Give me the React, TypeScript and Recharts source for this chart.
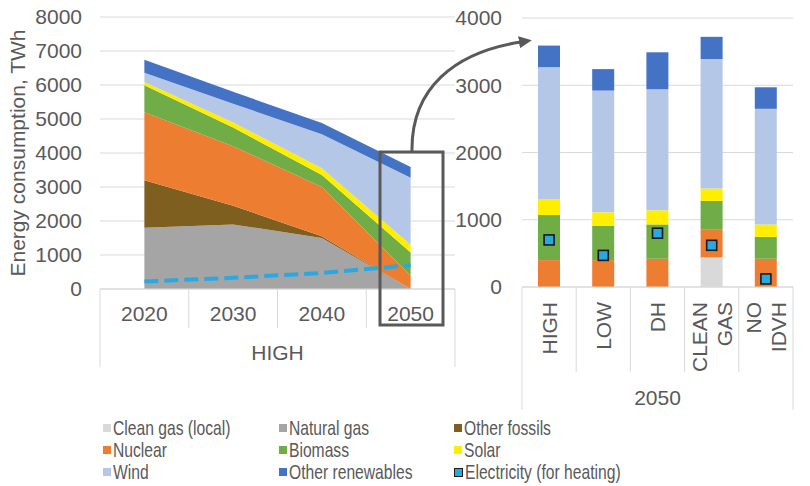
import React from "react";
import { ComposedChart, Area, Line, Bar, XAxis, YAxis, CartesianGrid } from "recharts";

// HIGH scenario, development over time (TWh)
const years = ["2020", "2030", "2040", "2050"];
const highCleanGas = [0, 0, 0, 0];
const highNaturalGas = [1800, 1900, 1500, 0];
const highOtherFossils = [1400, 550, 50, 0];
const highNuclear = [2000, 1750, 1450, 400];
const highBiomass = [790, 550, 350, 670];
const highSolar = [100, 150, 200, 230];
const highWind = [270, 550, 1000, 1970];
const highOtherRenewables = [380, 350, 330, 320];
const highElectricity = [220, 330, 470, 700];

// 2050 scenarios (TWh)
const scenarios = ["HIGH", "LOW", "DH", "CLEAN GAS", "NO IDVH"];
const scCleanGas = [0, 0, 0, 440, 0];
const scNaturalGas = [0, 0, 0, 0, 0];
const scOtherFossils = [0, 0, 0, 0, 0];
const scNuclear = [400, 400, 420, 420, 420];
const scBiomass = [670, 510, 510, 420, 325];
const scSolar = [230, 200, 210, 185, 185];
const scWind = [1970, 1810, 1800, 1925, 1720];
const scOtherRenewables = [320, 320, 550, 330, 320];
const scElectricity = [700, 470, 800, 620, 120];

const leftTicks = [0, 1000, 2000, 3000, 4000, 5000, 6000, 7000, 8000];
const rightTicks = [0, 1000, 2000, 3000, 4000];

const series = [
  { key: "cleanGas", name: "Clean gas (local)", color: "#d9d9d9" },
  { key: "naturalGas", name: "Natural gas", color: "#a5a5a5" },
  { key: "otherFossils", name: "Other fossils", color: "#7f5f1f" },
  { key: "nuclear", name: "Nuclear", color: "#ed7d31" },
  { key: "biomass", name: "Biomass", color: "#70ad47" },
  { key: "solar", name: "Solar", color: "#ffee00" },
  { key: "wind", name: "Wind", color: "#b4c7e7" },
  { key: "otherRenewables", name: "Other renewables", color: "#4472c4" },
];
const ELEC_COLOR = "#29a9e1";
const TEXT = "#595959";
const GRID = "#d9d9d9";
const FONT = "'Liberation Sans', Arial, sans-serif";

const leftData = years.map((year, i) => ({
  year,
  cleanGas: highCleanGas[i],
  naturalGas: highNaturalGas[i],
  otherFossils: highOtherFossils[i],
  nuclear: highNuclear[i],
  biomass: highBiomass[i],
  solar: highSolar[i],
  wind: highWind[i],
  otherRenewables: highOtherRenewables[i],
  electricity: highElectricity[i],
}));

const rightData = scenarios.map((scenario, i) => ({
  scenario,
  cleanGas: scCleanGas[i],
  naturalGas: scNaturalGas[i],
  otherFossils: scOtherFossils[i],
  nuclear: scNuclear[i],
  biomass: scBiomass[i],
  solar: scSolar[i],
  wind: scWind[i],
  otherRenewables: scOtherRenewables[i],
  electricity: scElectricity[i],
}));

// plot widths divided by category count
const LEFT_STEP = 355 / years.length;
const RIGHT_STEP = 271 / scenarios.length;

function YearTick(props: any) {
  const { x, y, payload, index } = props;
  const half = LEFT_STEP / 2;
  return (
    <g>
      <line x1={x - half} x2={x - half} y1={y} y2={y + (index === 0 ? 78 : 39)} stroke={GRID} />
      {index === years.length - 1 && (
        <line x1={x + half} x2={x + half} y1={y} y2={y + 78} stroke={GRID} />
      )}
      <text x={x} y={y + 24} textAnchor="middle" dominantBaseline="central" fill={TEXT} fontSize={21}>
        {payload.value}
      </text>
    </g>
  );
}

function ScenarioTick(props: any) {
  const { x, y, payload, index } = props;
  const half = RIGHT_STEP / 2;
  const lines = String(payload.value).split(" ");
  return (
    <g>
      <line x1={x - half} x2={x - half} y1={y} y2={y + (index === 0 ? 123 : 85)} stroke={GRID} />
      {index === scenarios.length - 1 && (
        <line x1={x + half} x2={x + half} y1={y} y2={y + 123} stroke={GRID} />
      )}
      <text
        transform={`translate(${x}, ${y + 15}) rotate(-90)`}
        textAnchor="end"
        fill={TEXT}
        fontSize={21}
      >
        {lines.map((l, i) => (
          <tspan key={l} x={0} y={(i - (lines.length - 1) / 2) * 25} dominantBaseline="central">
            {l}
          </tspan>
        ))}
      </text>
    </g>
  );
}

const groupLabel = (text: string, dy: number) => (p: any) => {
  const vb = p.viewBox || {};
  return (
    <text x={vb.x + vb.width / 2} y={vb.y + dy} textAnchor="middle" dominantBaseline="central" fill={TEXT} fontSize={21}>
      {text}
    </text>
  );
};

const yTitle = (p: any) => {
  const vb = p.viewBox || {};
  const cx = vb.x + 17;
  const cy = vb.y + vb.height / 2;
  return (
    <text transform={`translate(${cx}, ${cy}) rotate(-90)`} textAnchor="middle" dominantBaseline="central" fill={TEXT} fontSize={21}>
      Energy consumption, TWh
    </text>
  );
};

const squareDot = (p: any) => {
  if (p.cx == null || p.cy == null) return <g key={p.index} />;
  return (
    <rect key={p.index} x={p.cx - 5} y={p.cy - 5} width={10} height={10} fill={ELEC_COLOR} stroke="#1a1a1a" strokeWidth={1.6} />
  );
};

const legendItems = [...series.map((s) => ({ name: s.name, color: s.color, elec: false })), { name: "Electricity (for heating)", color: ELEC_COLOR, elec: true }];

export default function App() {
  return (
    <div style={{ position: "absolute", left: 0, top: 0, width: 810, height: 486, background: "#fff", fontFamily: FONT, overflow: "hidden" }}>
      {/* HIGH scenario over time */}
      <div style={{ position: "absolute", left: 0, top: 0 }}>
        <ComposedChart width={460} height={370} data={leftData} margin={{ top: 17, right: 5, bottom: 0, left: 0 }} style={{ fontFamily: FONT }}>
          <CartesianGrid vertical={false} stroke={GRID} />
          <XAxis
            dataKey="year"
            padding={{ left: LEFT_STEP / 2, right: LEFT_STEP / 2 }}
            axisLine={{ stroke: GRID }}
            tickLine={false}
            tickSize={0}
            tickMargin={0}
            height={81}
            interval={0}
            tick={<YearTick />}
            label={groupLabel("HIGH", 63)}
          />
          <YAxis
            domain={[0, 8000]}
            ticks={leftTicks}
            width={100}
            axisLine={false}
            tickLine={false}
            tickMargin={12}
            tick={{ fill: TEXT, fontSize: 21 }}
            label={yTitle}
          />
          {series.map((s) => (
            <Area
              key={s.key}
              dataKey={s.key}
              name={s.name}
              stackId="mix"
              type="linear"
              fill={s.color}
              fillOpacity={1}
              stroke="none"
              isAnimationActive={false}
            />
          ))}
          <Line
            dataKey="electricity"
            name="Electricity (for heating)"
            type="linear"
            stroke={ELEC_COLOR}
            strokeWidth={4}
            strokeDasharray="14 6"
            dot={false}
            activeDot={false}
            isAnimationActive={false}
          />
        </ComposedChart>
      </div>

      {/* 2050 scenario comparison */}
      <div style={{ position: "absolute", left: 420, top: 0 }}>
        <ComposedChart width={390} height={410} data={rightData} margin={{ top: 18, right: 17, bottom: 0, left: 0 }} style={{ fontFamily: FONT }}>
          <CartesianGrid vertical={false} stroke={GRID} />
          <XAxis
            dataKey="scenario"
            axisLine={{ stroke: GRID }}
            tickLine={false}
            tickSize={0}
            tickMargin={0}
            height={123}
            interval={0}
            tick={<ScenarioTick />}
            label={groupLabel("2050", 110)}
          />
          <YAxis
            domain={[0, 4000]}
            ticks={rightTicks}
            width={102}
            axisLine={false}
            tickLine={false}
            tickMargin={14}
            tick={{ fill: TEXT, fontSize: 21 }}
          />
          {series.map((s) => (
            <Bar key={s.key} dataKey={s.key} name={s.name} stackId="mix" fill={s.color} barSize={22} isAnimationActive={false} />
          ))}
          <Line
            dataKey="electricity"
            name="Electricity (for heating)"
            stroke="none"
            dot={squareDot}
            activeDot={false}
            isAnimationActive={false}
          />
        </ComposedChart>
      </div>

      {/* highlight box and arrow linking 2050 to the scenario panel */}
      <svg width={810} height={486} style={{ position: "absolute", left: 0, top: 0, pointerEvents: "none" }}>
        <defs>
          <marker id="arrowHead" markerUnits="userSpaceOnUse" markerWidth={14} markerHeight={12} refX={2} refY={6} orient="auto">
            <path d="M0,0 L13,6 L0,12 z" fill="#595959" />
          </marker>
        </defs>
        <rect x={380} y={152} width={63} height={173} fill="none" stroke="#595959" strokeWidth={3} />
        <path d="M412,151 C411,88 455,52 521,42" fill="none" stroke="#595959" strokeWidth={3} markerEnd="url(#arrowHead)" />
      </svg>

      {/* legend, condensed text */}
      <div
        style={{
          position: "absolute",
          left: 103,
          top: 417,
          display: "grid",
          gridTemplateColumns: "176px 175px 200px",
          rowGap: 0,
          fontFamily: FONT,
          fontSize: 21,
          color: TEXT,
          lineHeight: "22px",
        }}
      >
        {legendItems.map((it) => (
          <div key={it.name} style={{ display: "flex", alignItems: "center", whiteSpace: "nowrap" }}>
            <span
              style={{
                display: "inline-block",
                flex: "none",
                width: it.elec ? 7 : 8,
                height: it.elec ? 7 : 8,
                background: it.color,
                border: it.elec ? "1.5px solid #1a1a1a" : "none",
                marginRight: 2,
              }}
            />
            <span style={{ display: "inline-block", transform: "scaleX(0.745)", transformOrigin: "0 50%" }}>{it.name}</span>
          </div>
        ))}
      </div>
    </div>
  );
}
